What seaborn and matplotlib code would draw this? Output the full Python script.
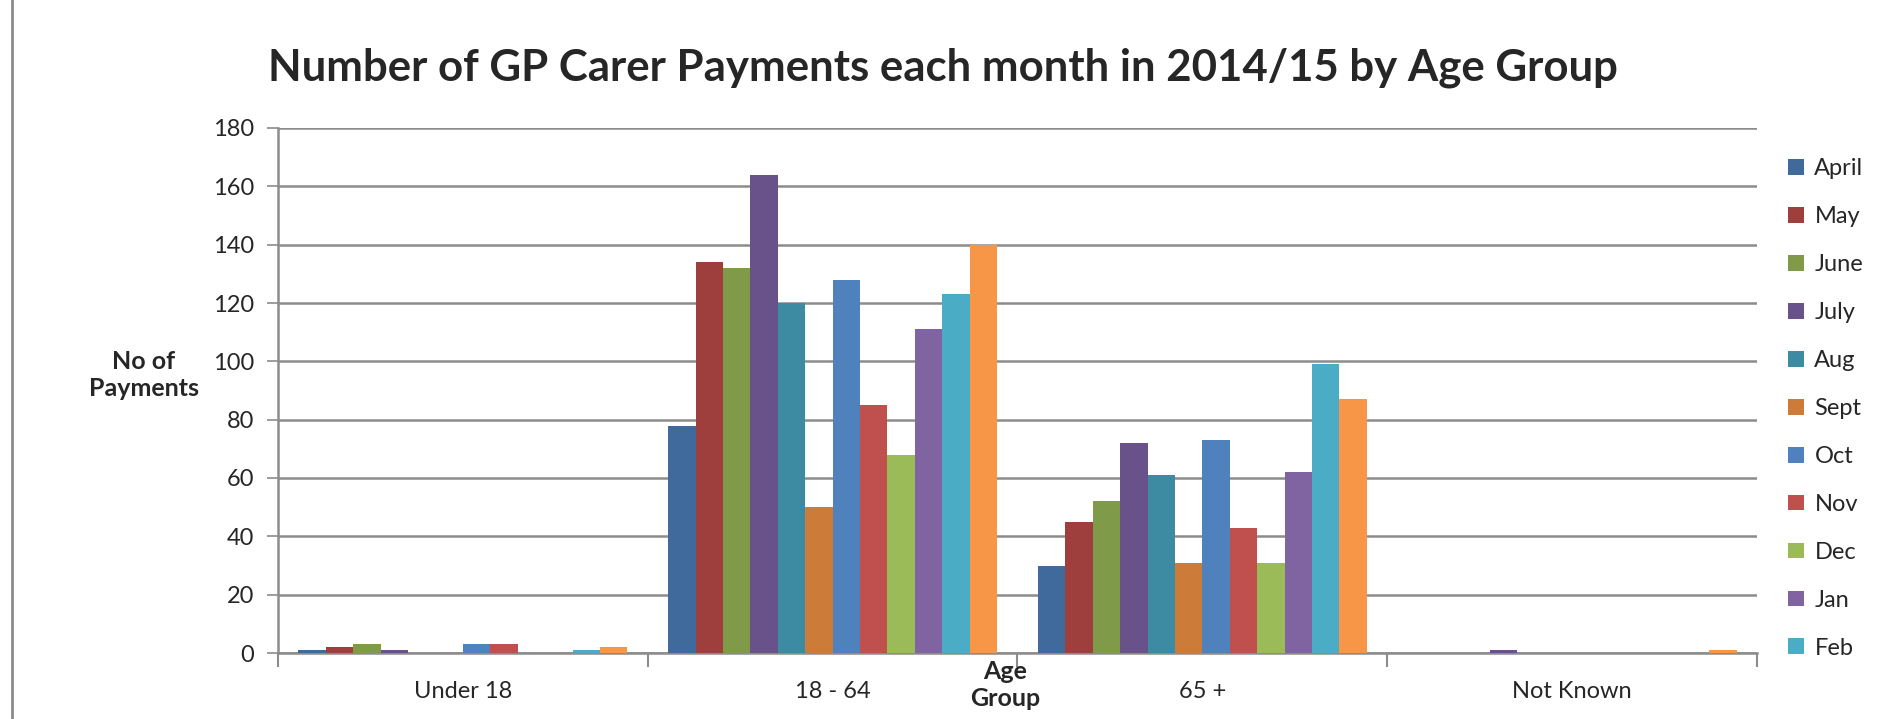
import matplotlib
matplotlib.use("Agg")
import matplotlib.pyplot as plt
import numpy as np
import pandas as pd
import seaborn as sns
from matplotlib.patches import Patch
from matplotlib.lines import Line2D

groups = ["Under 18", "18 - 64", "65 +", "Not Known"]
months = ["April", "May", "June", "July", "Aug", "Sept",
          "Oct", "Nov", "Dec", "Jan", "Feb", "Mar"]

under_18 = [1, 2, 3, 1, 0, 0, 3, 3, 0, 0, 1, 2]
age_18_64 = [78, 134, 132, 164, 120, 50, 128, 85, 68, 111, 123, 140]
age_65_plus = [30, 45, 52, 72, 61, 31, 73, 43, 31, 62, 99, 87]
not_known = [0, 0, 0, 1, 0, 0, 0, 0, 0, 0, 0, 1]

month_colors = ["#3F6A9B", "#9E3F3E", "#7F9A48", "#69518A", "#3C8BA3", "#CC7B38",
                "#4F81BD", "#C0504D", "#9BBB59", "#8064A2", "#4BACC6", "#F79646"]

rows = []
for g, vals in zip(groups, [under_18, age_18_64, age_65_plus, not_known]):
    for m, v in zip(months, vals):
        rows.append({"group": g, "month": m, "value": v})
df = pd.DataFrame(rows)

sns.set_style("white")
plt.rcParams["font.family"] = ["Lato", "DejaVu Sans"]

fig = plt.figure(figsize=(18.81, 7.19), dpi=100)
ax = fig.add_axes([278 / 1881, 1 - 653 / 719, (1757 - 278) / 1881, (653 - 128) / 719])

sns.barplot(
    data=df, x="group", y="value", hue="month",
    order=groups, hue_order=months,
    palette=month_colors, saturation=1, width=0.89,
    linewidth=0, ax=ax, legend=False, zorder=3
)

ax.set_xlim(-0.5, 3.5)
ax.set_ylim(0, 180)
ax.set_yticks(np.arange(0, 181, 20))
ax.yaxis.grid(True, color="#8C8C8C", linewidth=1.8, zorder=0)
ax.set_axisbelow(True)
ax.tick_params(axis="y", labelsize=17, length=8, width=1.2, color="#8C8C8C",
               direction="out", pad=9, left=True)

ax.set_xticks(range(len(groups)))
ax.set_xticklabels(groups)
ax.set_xticks(np.arange(-0.5, 3.6, 1), minor=True)
ax.tick_params(axis="x", which="major", length=0, labelsize=17, pad=20)
ax.tick_params(axis="x", which="minor", length=10, width=1.5, color="#8C8C8C",
               direction="out", bottom=True)

for s in ["top", "right"]:
    ax.spines[s].set_visible(False)
for s in ["left", "bottom"]:
    ax.spines[s].set_color("#8C8C8C")
    ax.spines[s].set_linewidth(1.8)

ax.set_xlabel("")
ax.set_ylabel("")

fig.text(943 / 1881, 1 - 68 / 719,
         "Number of GP Carer Payments each month in 2014/15 by Age Group",
         ha="center", va="center", fontsize=31.5, fontweight="bold")
fig.text(144 / 1881, 1 - 375 / 719, "No of\nPayments", ha="center", va="center",
         fontsize=18, fontweight="bold", linespacing=1.25)
fig.text(1005 / 1881, 1 - 685 / 719, "Age\nGroup", ha="center", va="center",
         fontsize=18, fontweight="bold", linespacing=1.25)

# legend (the last entry is cut off in the original)
handles = [Patch(facecolor=c, edgecolor="none") for c in month_colors[:11]]
fig.legend(handles, months[:11], loc="upper left",
           bbox_to_anchor=(1779 / 1881, 1 - 149 / 719),
           frameon=False, fontsize=17, handlelength=0.65, handleheight=0.65,
           handletextpad=0.45, labelspacing=1.14, borderaxespad=0)

fig.add_artist(Line2D([12 / 1881, 12 / 1881], [0, 1], color="#8C8C8C", linewidth=2))

fig.savefig("out.png", dpi=100, facecolor="white")
